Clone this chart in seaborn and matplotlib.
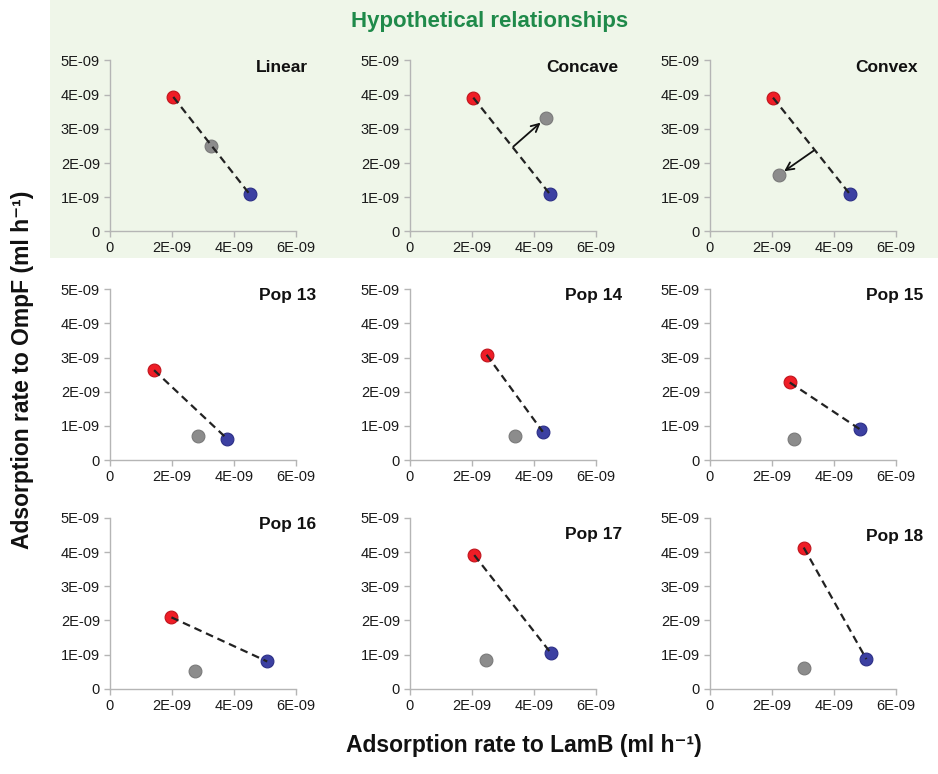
import numpy as np
import pandas as pd
import matplotlib
matplotlib.use('Agg')
import matplotlib.pyplot as plt
from matplotlib.ticker import FuncFormatter
from matplotlib.patches import Rectangle
import seaborn as sns

# panel names, read left to right, top to bottom
panels = ['Linear', 'Concave', 'Convex', 'Pop 13', 'Pop 14', 'Pop 15', 'Pop 16', 'Pop 17', 'Pop 18']

# values in units of 1E-09 (ml h^-1)
red_x = [2.05, 2.05, 2.04, 1.43, 2.48, 2.58, 1.99, 2.08, 3.03]
red_y = [3.93, 3.91, 3.91, 2.63, 3.08, 2.27, 2.09, 3.91, 4.13]
grey_x = [3.27, 4.40, 2.22, 2.84, 3.40, 2.71, 2.76, 2.47, 3.05]
grey_y = [2.50, 3.33, 1.66, 0.72, 0.72, 0.61, 0.53, 0.85, 0.60]
blue_x = [4.52, 4.53, 4.52, 3.78, 4.29, 4.83, 5.08, 4.54, 5.05]
blue_y = [1.08, 1.08, 1.09, 0.63, 0.83, 0.91, 0.80, 1.06, 0.87]

# arrows in the hypothetical panels (start -> end), units of 1E-09
arrow_panels = ['Concave', 'Convex']
arrow_start = [(3.34, 2.48), (3.35, 2.36)]
arrow_end = [(4.22, 3.18), (2.40, 1.76)]

scale = 1e-9
rows = []
for i, p in enumerate(panels):
    rows.append((p, 'red', red_x[i] * scale, red_y[i] * scale))
    rows.append((p, 'grey', grey_x[i] * scale, grey_y[i] * scale))
    rows.append((p, 'blue', blue_x[i] * scale, blue_y[i] * scale))
df = pd.DataFrame(rows, columns=['panel', 'kind', 'lamb', 'ompf'])

palette = {'red': '#ef1d26', 'grey': '#8c8c8c', 'blue': '#3c40a2'}
edges = {'red': '#c0141c', 'grey': '#7a7a7a', 'blue': '#2c2f86'}

sns.set_style('white')
plt.rcParams['font.family'] = ['Liberation Sans', 'DejaVu Sans']

fig, axes = plt.subplots(3, 3, figsize=(9.38, 7.74), dpi=100)
fig.subplots_adjust(left=0.117, right=0.955, bottom=0.110, top=0.922,
                    wspace=0.613, hspace=0.337)

# light green band behind the hypothetical row
fig.patches.append(Rectangle((0.053, 0.667), 0.947, 0.333, transform=fig.transFigure,
                             facecolor='#eff6e9', edgecolor='none', zorder=-10))

def fmt(v, pos):
    if abs(v) < 1e-15:
        return '0'
    return f'{v:.0E}'

label_x = [1.065, 1.12, 1.12, 1.11, 1.14, 1.145, 1.11, 1.14, 1.145]
label_y = [0.96, 0.96, 0.96, 0.96, 0.96, 0.96, 0.96, 0.90, 0.89]

for i, p in enumerate(panels):
    ax = axes.flat[i]
    ax.set_facecolor('none')
    sub = df[df.panel == p]
    ax.plot([red_x[i] * scale, blue_x[i] * scale], [red_y[i] * scale, blue_y[i] * scale],
            color='#222222', ls=(0, (3.5, 2.2)), lw=1.6, zorder=3)
    for kind in ['red', 'grey', 'blue']:
        s = sub[sub.kind == kind]
        sns.scatterplot(data=s, x='lamb', y='ompf', color=palette[kind], s=85,
                        edgecolor=edges[kind], linewidth=0.8, ax=ax, zorder=2, legend=False)
    if p in arrow_panels:
        j = arrow_panels.index(p)
        ax.annotate('', xy=(arrow_end[j][0] * scale, arrow_end[j][1] * scale),
                    xytext=(arrow_start[j][0] * scale, arrow_start[j][1] * scale),
                    arrowprops=dict(arrowstyle='->', color='#111111', lw=1.3,
                                    shrinkA=0, shrinkB=0, mutation_scale=14))
    ax.set_xlim(0, 6e-9)
    ax.set_ylim(0, 5e-9)
    ax.set_xticks([0, 2e-9, 4e-9, 6e-9])
    ax.set_yticks([0, 1e-9, 2e-9, 3e-9, 4e-9, 5e-9])
    ax.xaxis.set_major_formatter(FuncFormatter(fmt))
    ax.yaxis.set_major_formatter(FuncFormatter(fmt))
    ax.xaxis.get_offset_text().set_visible(False)
    ax.yaxis.get_offset_text().set_visible(False)
    ax.set_xlabel('')
    ax.set_ylabel('')
    for side in ['top', 'right']:
        ax.spines[side].set_visible(False)
    for side in ['left', 'bottom']:
        ax.spines[side].set_color('#b5b5b5')
        ax.spines[side].set_linewidth(1.0)
    ax.tick_params(axis='both', labelsize=10.5, colors='#b5b5b5', labelcolor='#1a1a1a',
                   length=4, width=1.0, direction='out', bottom=True, left=True, pad=3)
    ax.text(label_x[i], label_y[i], p, transform=ax.transAxes, ha='right', va='center',
            fontsize=12.5, fontweight='bold', color='#111111')

fig.text(0.522, 0.972, 'Hypothetical relationships', ha='center', va='center',
         fontsize=16, fontweight='bold', color='#1f8a4a')
fig.text(0.024, 0.522, 'Adsorption rate to OmpF (ml h\u207b\u00b9)', rotation=90,
         ha='center', va='center', fontsize=16.5, fontweight='bold', color='#111111')
fig.text(0.559, 0.037, 'Adsorption rate to LamB (ml h\u207b\u00b9)', ha='center', va='center',
         fontsize=16.5, fontweight='bold', color='#111111')

fig.savefig('out.png', dpi=100)
